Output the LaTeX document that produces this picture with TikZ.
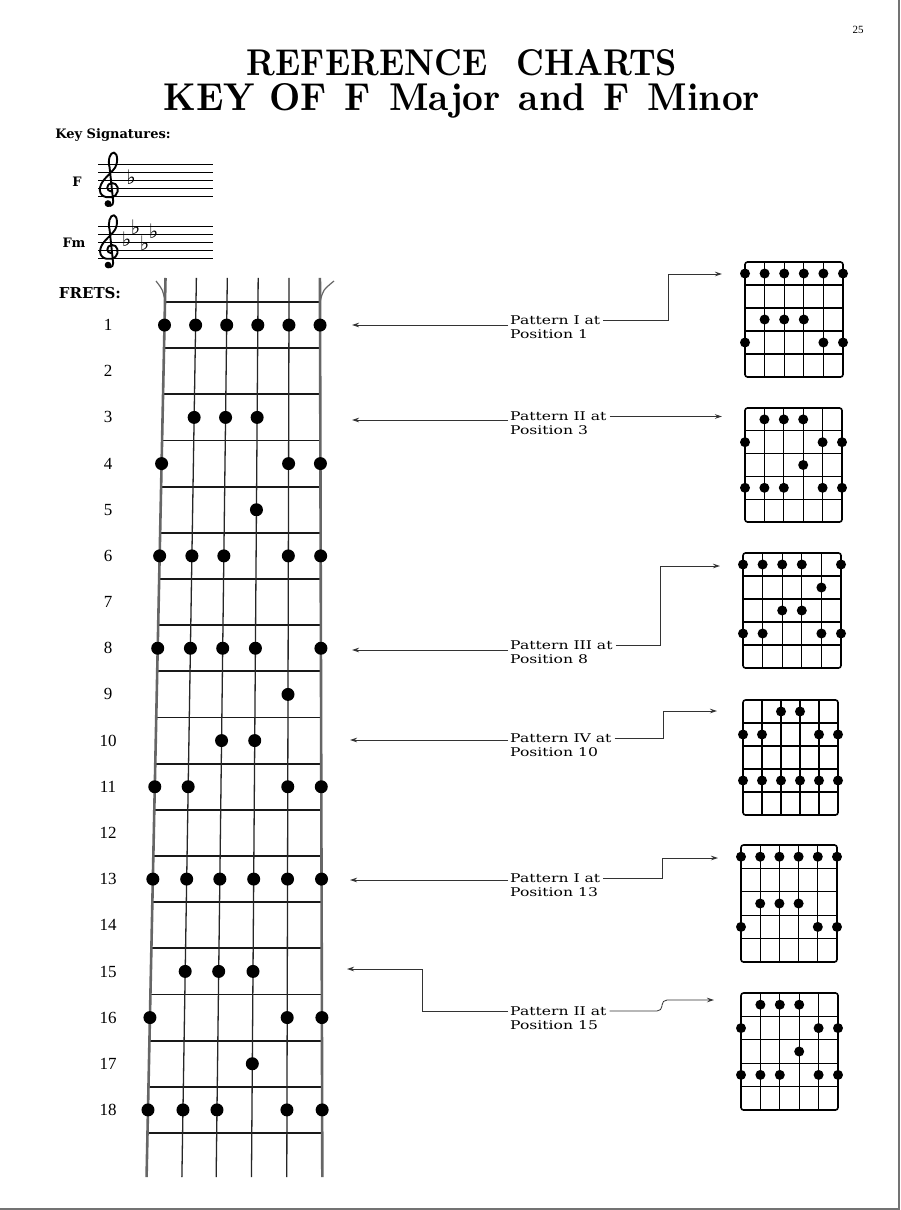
\documentclass[tikz,border=0pt]{standalone}
\usepackage{fontspec}
\usepackage{graphicx}
\usetikzlibrary{arrows.meta,calc}
\newfontfamily\lblfont{DejaVu Serif}
\newfontfamily\numfont{Liberation Serif}
\newfontfamily\symfont{DejaVu Sans}
\tikzset{
 fbstring/.style={line width=1.3pt, black!85},
 fbouter/.style={line width=2.6pt, black!60},
 fretline/.style={line width=1.8pt, black!90},
 conn/.style={line width=0.8pt, black!80},
 arr/.style={conn, -{Stealth[length=7pt,width=4.5pt]}},
 lbl/.style={font=\lblfont\fontsize{12}{13}\selectfont, inner sep=0pt, anchor=west},
 fnum/.style={font=\numfont\fontsize{17}{17}\selectfont, inner sep=0pt},
 chbox/.style={line width=1.6pt, rounded corners=2.5pt},
 chline/.style={line width=1.2pt},
 staffline/.style={line width=1.1pt},
 sigtext/.style={font=\lblfont\bfseries\fontsize{13}{13}\selectfont, inner sep=0pt},
 flatsym/.style={font=\symfont\fontsize{20}{20}\selectfont, inner sep=0pt},
}
\newcommand\lbltext[1]{\scalebox{1.3}[1]{#1}}
\newcommand\flatat[1]{\makebox[9pt][c]{\raisebox{#1}{♭}}}
\newcommand\gclef[3]{% x of centre, y of G line, staff spacing
 \begin{scope}[shift={(#1,#2)}, x=#3pt, y=-#3pt]
  \draw[line width=1.9pt, line cap=round, line join=round]
    (0.15,0.35) .. controls (-0.5,0.35) and (-0.5,-0.6) .. (0.2,-0.7)
    .. controls (1.0,-0.75) and (1.2,0.3) .. (0.7,0.8)
    .. controls (0.2,1.3) and (-1.2,1.2) .. (-1.25,0.2)
    .. controls (-1.3,-0.8) and (-0.3,-1.5) .. (0.4,-2.3)
    .. controls (1.1,-3.0) and (0.95,-4.4) .. (0.5,-4.45)
    .. controls (0.0,-4.5) and (-0.3,-3.5) .. (-0.05,-2.6)
    -- (0.4,1.6)
    .. controls (0.45,2.2) and (-0.3,2.3) .. (-0.45,1.9);
  \fill (-0.25,1.85) circle[radius=0.42];
 \end{scope}
}
\newcommand\fchart[6]{%
 \draw[chbox] (#2,#3) rectangle (#4,#5);
 \foreach \k in {1,...,4} {
   \draw[chline] (#2,{#3+\k*(#5-#3)/5}) -- (#4,{#3+\k*(#5-#3)/5});
   \draw[chline] ({#2+\k*(#4-#2)/5},#3) -- ({#2+\k*(#4-#2)/5},#5);
 }
 \foreach \r/\s in {#6}
   \fill ({#2+(\s-1)*(#4-#2)/5},{#3+(\r-0.5)*(#5-#3)/5}) circle[radius=5pt];
 \coordinate (#1) at (#2,#3);
}
\begin{document}
\begin{tikzpicture}[x=1pt,y=-1pt]
\useasboundingbox (0,0) rectangle (900,1210);
\fill[white] (0,0) rectangle (900,1210);
\draw[black!55, line width=1.5pt] (0,1209.2) -- (899.2,1209.2) -- (899.2,0);
% page number and title
\node[font=\numfont\fontsize{11}{11}\selectfont, inner sep=0] (pg) at (858,30) {25};
\node[anchor=base, inner sep=0] (t1) at (462,75) {\resizebox{430pt}{26pt}{\bfseries REFERENCE\enspace\ CHARTS}};
\node[anchor=base, inner sep=0] (t2) at (462,110) {\resizebox{596pt}{27pt}{\bfseries KEY OF\enspace F\enspace Major\enspace and\enspace F\enspace Minor}};
% key signatures
\node[sigtext] (ks) at (113,135) {Key Signatures:};
\node[sigtext] (kF) at (77,182) {F};
\node[sigtext] (kFm) at (74,243) {Fm};
\node[sigtext, font=\lblfont\bfseries\fontsize{15}{15}\selectfont] (frets) at (90,293) {FRETS:};
\foreach \k in {0,...,4} {
  \draw[staffline] (98,{164.3+8.1*\k}) -- (213,{164.3+8.1*\k});
  \draw[staffline] (98,{226.7+7.9*\k}) -- (213,{226.7+7.9*\k});
}
\gclef{110}{188.6}{8.1}
\gclef{110}{250.4}{7.9}
\node[flatsym, anchor=base] (flF) at (131,184.7) {♭};
\node[flatsym, anchor=base west] (flFm) at (122,246.7) {\flatat{0pt}\flatat{11.8pt}\flatat{-3.95pt}\flatat{7.9pt}};
% fretboard
\foreach \i/\xt/\xb in {0/165/147.5,1/196/182.6,2/227/216.7,3/258/251.8,4/289/286.9,5/320/322.2} {
  \coordinate (T\i) at (\xt,302);
  \coordinate (B\i) at (\xb,1133);
}
\foreach \k in {0,...,18} {
  \pgfmathsetmacro\f{\k/18}
  \draw[fretline] ($(T0)!\f!(B0)$) -- ($(T5)!\f!(B5)$);
}
\foreach \i in {1,...,4}
  \draw[fbstring] ($(T\i)!-0.0289!(B\i)$) -- ($(T\i)!1.053!(B\i)$);
\foreach \i in {0,5}
  \draw[fbouter] ($(T\i)!-0.0289!(B\i)$) -- ($(T\i)!1.053!(B\i)$);
\draw[fbouter, line width=1.2pt] (T0) .. controls (163,290) .. (156,281);
\draw[fbouter, line width=1.2pt] (T5) .. controls (323,290) .. (334,281);
\foreach \n/\strs in {1/{0,1,2,3,4,5},3/{1,2,3},4/{0,4,5},5/{3},6/{0,1,2,4,5},8/{0,1,2,3,5},9/{4},10/{2,3},11/{0,1,4,5},13/{0,1,2,3,4,5},15/{1,2,3},16/{0,4,5},17/{3},18/{0,1,2,4,5}} {
  \pgfmathsetmacro\f{(\n-0.5)/18}
  \foreach \s in \strs
    \fill ($(T\s)!\f!(B\s)$) circle[radius=6.5pt];
}
\foreach \n in {1,...,18}
  \node[fnum] (f\n) at (108,{325+46.18*(\n-1)}) {\n};
% small charts
\fchart{C1}{745}{262}{843}{377}{1/1,1/2,1/3,1/4,1/5,1/6,3/2,3/3,3/4,4/1,4/5,4/6}
\fchart{C2}{745}{408}{842}{522}{1/2,1/3,1/4,2/1,2/5,2/6,3/4,4/1,4/2,4/3,4/5,4/6}
\fchart{C3}{743}{553}{841}{668}{1/1,1/2,1/3,1/4,1/6,2/5,3/3,3/4,4/1,4/2,4/5,4/6}
\fchart{C4}{743}{700}{838}{815}{1/3,1/4,2/1,2/2,2/5,2/6,4/1,4/2,4/3,4/4,4/5,4/6}
\fchart{C5}{741}{845}{837}{962}{1/1,1/2,1/3,1/4,1/5,1/6,3/2,3/3,3/4,4/1,4/5,4/6}
\fchart{C6}{741}{993}{838}{1110}{1/2,1/3,1/4,2/1,2/5,2/6,3/4,4/1,4/2,4/3,4/5,4/6}
% labels
\node[lbl] (P1) at (510,320.5) {\lbltext{Pattern I at}};
\node[lbl] (Q1) at (510,334) {\lbltext{Position 1}};
\node[lbl] (P2) at (510,416.5) {\lbltext{Pattern II at}};
\node[lbl] (Q2) at (510,430) {\lbltext{Position 3}};
\node[lbl] (P3) at (510,645.5) {\lbltext{Pattern III at}};
\node[lbl] (Q3) at (510,659) {\lbltext{Position 8}};
\node[lbl] (P4) at (510,738) {\lbltext{Pattern IV at}};
\node[lbl] (Q4) at (510,752) {\lbltext{Position 10}};
\node[lbl] (P5) at (510,878) {\lbltext{Pattern I at}};
\node[lbl] (Q5) at (510,892) {\lbltext{Position 13}};
\node[lbl] (P6) at (510,1011) {\lbltext{Pattern II at}};
\node[lbl] (Q6) at (510,1025) {\lbltext{Position 15}};
% connector end points
\coordinate (fb1) at (352,325);
\coordinate (fb2) at (352,420);
\coordinate (fb3) at (352,650);
\coordinate (fb4) at (350,740);
\coordinate (fb5) at (350,880);
\coordinate (fb6) at (347,969);
\coordinate (k1) at (668,274);
\coordinate (k3) at (660,566);
\coordinate (k4) at (663,711);
\coordinate (k5) at (662,858);
\coordinate (k6) at (662,1000);
\coordinate (k6b) at (422,969);
\coordinate (ch1a) at (722,274);
\coordinate (ch2a) at (722,416.5);
\coordinate (ch3a) at (720,566);
\coordinate (ch4a) at (717,711);
\coordinate (ch5a) at (718,858);
\coordinate (ch6a) at (714,1000);
% connectors
\draw[arr] ([xshift=-2pt]P1.west |- fb1) -- (fb1);
\draw[arr] ([xshift=-2pt]P2.west |- fb2) -- (fb2);
\draw[arr] ([xshift=-2pt]P3.west |- fb3) -- (fb3);
\draw[arr] ([xshift=-2pt]P4.west |- fb4) -- (fb4);
\draw[arr] ([xshift=-2pt]P5.west |- fb5) -- (fb5);
\draw[arr] ([xshift=-2pt]P6.west) -| (k6b) -- (fb6);
\draw[arr] ([xshift=3pt]P1.east) -| (k1) -- (ch1a);
\draw[arr] ([xshift=3pt]P2.east) -- (ch2a);
\draw[arr] ([xshift=3pt]P3.east) -| (k3) -- (ch3a);
\draw[arr] ([xshift=3pt]P4.east) -| (k4) -- (ch4a);
\draw[arr] ([xshift=3pt]P5.east) -| (k5) -- (ch5a);
\draw[arr, rounded corners=5pt] ([xshift=3pt]P6.east) -| (k6) -- (ch6a);
\end{tikzpicture}
\end{document}
